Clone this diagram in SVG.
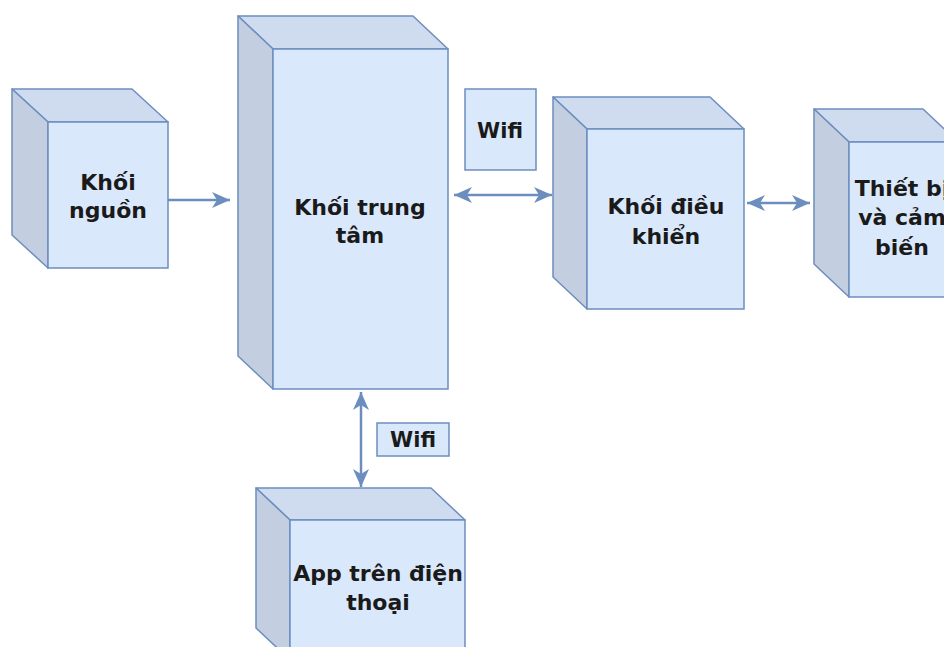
<svg xmlns="http://www.w3.org/2000/svg" width="944" height="647" viewBox="0 0 944 647">
  <style>
    .front { fill: #dae8fc; stroke: #6c8ebf; stroke-width: 1.5; }
    .top { fill: #cfdcf0; stroke: #6c8ebf; stroke-width: 1.5; stroke-linejoin: round; }
    .side { fill: #c3cee0; stroke: #6c8ebf; stroke-width: 1.5; stroke-linejoin: round; }
    .label { font-family: "DejaVu Sans", "Liberation Sans", sans-serif; font-weight: bold; font-size: 22px; fill: #1a1a1a; text-anchor: middle; }
    .small { font-size: 21px; }
    .edge { fill: none; stroke: #6c8ebf; stroke-width: 2.5; }
  </style>
  <defs>
    <marker id="arrow" viewBox="0 0 18 16" refX="18" refY="8" markerWidth="18" markerHeight="16" markerUnits="userSpaceOnUse" orient="auto-start-reverse">
      <path d="M0,0 L18,8 L0,16 L5,8 Z" fill="#6c8ebf"/>
    </marker>
  </defs>
  <rect width="944" height="647" fill="#ffffff"/>

  <!-- power supply block -->
  <g id="khoi-nguon">
    <polygon class="top" points="12,89 132,89 168,122 48,122"/>
    <polygon class="side" points="12,89 48,122 48,268 12,235"/>
    <rect class="front" x="48" y="122" width="120" height="146"/>
    <text class="label" x="108" y="190">Khối</text>
    <text class="label" x="108" y="218">nguồn</text>
  </g>

  <!-- central block -->
  <g id="khoi-trung-tam">
    <polygon class="top" points="238,16 413,16 448,49 273,49"/>
    <polygon class="side" points="238,16 273,49 273,389 238,356"/>
    <rect class="front" x="273" y="49" width="175" height="340"/>
    <text class="label" x="360" y="215">Khối trung</text>
    <text class="label" x="360" y="243">tâm</text>
  </g>

  <!-- wifi label, top -->
  <g id="wifi-1">
    <rect class="front" x="465" y="89" width="71" height="81"/>
    <text class="label small" x="500" y="138">Wifi</text>
  </g>

  <!-- control block -->
  <g id="khoi-dieu-khien">
    <polygon class="top" points="553,97 710,97 744,129 587,129"/>
    <polygon class="side" points="553,97 587,129 587,309 553,277"/>
    <rect class="front" x="587" y="129" width="157" height="180"/>
    <text class="label" x="666" y="214">Khối điều</text>
    <text class="label" x="666" y="244">khiển</text>
  </g>

  <!-- devices and sensors block (runs past the right edge) -->
  <g id="thiet-bi">
    <polygon class="top" points="814,109 923,109 958,142 849,142"/>
    <polygon class="side" points="814,109 849,142 849,297 814,264"/>
    <rect class="front" x="849" y="142" width="109" height="155"/>
    <text class="label" x="902" y="196" font-size="21">Thiết bị</text>
    <text class="label" x="902" y="225" font-size="21">và cảm</text>
    <text class="label" x="902" y="255" font-size="21">biến</text>
  </g>

  <!-- wifi label, bottom -->
  <g id="wifi-2">
    <rect class="front" x="377" y="423" width="72" height="33"/>
    <text class="label small" x="413" y="447">Wifi</text>
  </g>

  <!-- phone app block (runs past the bottom edge) -->
  <g id="app">
    <polygon class="top" points="256,488 431,488 465,520 290,520"/>
    <polygon class="side" points="256,488 290,520 290,660 256,628"/>
    <rect class="front" x="290" y="520" width="175" height="140"/>
    <text class="label" x="378" y="581">App trên điện</text>
    <text class="label" x="378" y="610">thoại</text>
  </g>

  <!-- connectors -->
  <g id="connectors">
    <line class="edge" x1="168" y1="200" x2="230" y2="200" marker-end="url(#arrow)"/>
    <line class="edge" x1="454" y1="195" x2="552" y2="195" marker-start="url(#arrow)" marker-end="url(#arrow)"/>
    <line class="edge" x1="747" y1="203" x2="810" y2="203" marker-start="url(#arrow)" marker-end="url(#arrow)"/>
    <line class="edge" x1="361" y1="392" x2="361" y2="487" marker-start="url(#arrow)" marker-end="url(#arrow)"/>
  </g>
</svg>
